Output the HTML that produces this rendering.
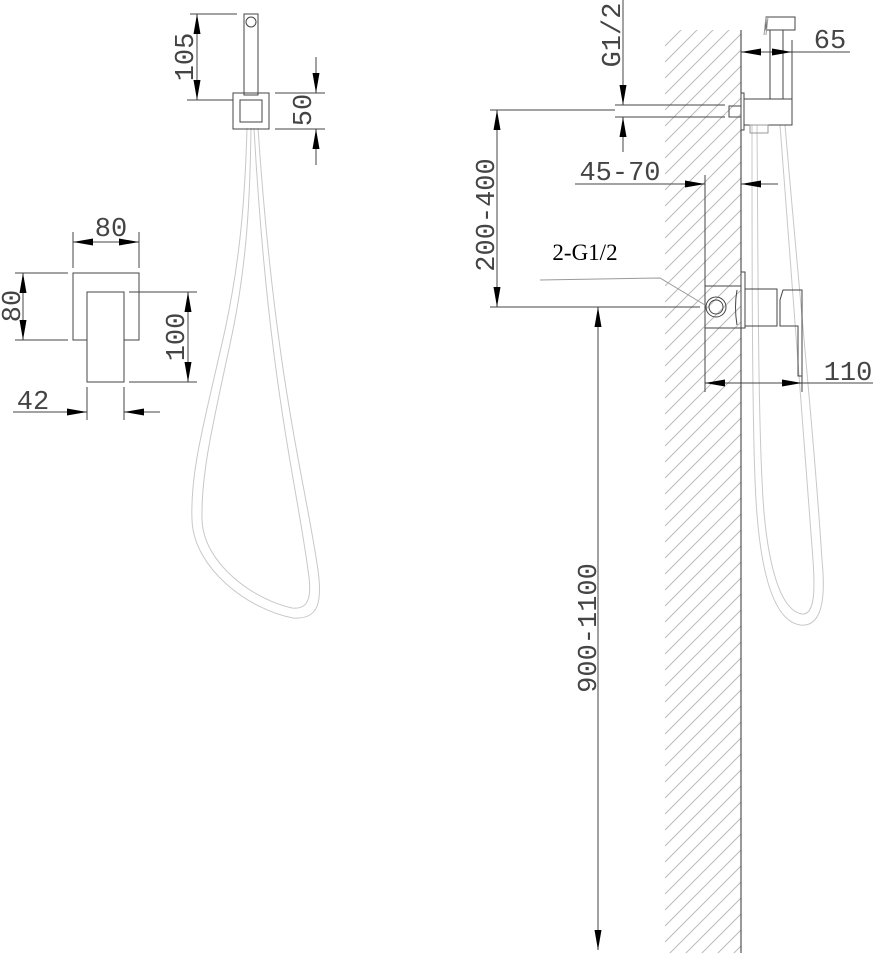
<!DOCTYPE html>
<html><head><meta charset="utf-8"><style>
html,body{margin:0;padding:0;background:#fff;overflow:hidden;width:873px;height:953px;}
svg{display:block;}
text{font-family:"Liberation Mono","DejaVu Sans Mono",monospace;fill:#444;}
</style></head><body>
<svg width="873" height="953" viewBox="0 0 873 953" xmlns="http://www.w3.org/2000/svg">
<defs>
<marker id="a" viewBox="0 0 20 7" refX="20" refY="3.5" markerWidth="20" markerHeight="7" markerUnits="userSpaceOnUse" orient="auto" preserveAspectRatio="none"><path d="M0,0L20,3.5L0,7z" fill="#000"/></marker>
<clipPath id="wall"><rect x="665" y="30" width="76" height="923"/></clipPath>
</defs>

<g clip-path="url(#wall)" stroke="#bbb" stroke-width="1">
<path d="M665,46l80,-80M665,62l80,-80M665,78l80,-80M665,94l80,-80M665,110l80,-80M665,126l80,-80M665,142l80,-80M665,158l80,-80M665,174l80,-80M665,190l80,-80M665,206l80,-80M665,222l80,-80M665,238l80,-80M665,254l80,-80M665,270l80,-80M665,286l80,-80M665,302l80,-80M665,318l80,-80M665,334l80,-80M665,350l80,-80M665,366l80,-80M665,382l80,-80M665,398l80,-80M665,414l80,-80M665,430l80,-80M665,446l80,-80M665,462l80,-80M665,478l80,-80M665,494l80,-80M665,510l80,-80M665,526l80,-80M665,542l80,-80M665,558l80,-80M665,574l80,-80M665,590l80,-80M665,606l80,-80M665,622l80,-80M665,638l80,-80M665,654l80,-80M665,670l80,-80M665,686l80,-80M665,702l80,-80M665,718l80,-80M665,734l80,-80M665,750l80,-80M665,766l80,-80M665,782l80,-80M665,798l80,-80M665,814l80,-80M665,830l80,-80M665,846l80,-80M665,862l80,-80M665,878l80,-80M665,894l80,-80M665,910l80,-80M665,926l80,-80M665,942l80,-80M665,958l80,-80M665,974l80,-80M665,990l80,-80M665,1006l80,-80M665,1022l80,-80M665,1038l80,-80"/>
</g>

<g fill="none" stroke="#c8c8c8" stroke-width="1">
<path d="M247,128 C245,200 240,260 225,330 C205,420 190,470 192,520 C194,570 250,610 293,618 C320,620 322,600 318,570 C305,480 275,380 258,128"/>
<path d="M251,128 C250,200 247,260 233,330 C214,420 201,470 202,520 C204,565 255,600 292,608 C310,610 312,595 308,570 C296,480 268,380 254,128"/>
<path d="M752,125 C752,250 752,400 755,480 C758,560 770,620 800,625 C825,628 825,590 822,560 C815,450 800,300 785,125"/>
<path d="M757,125 C758,250 758,400 762,480 C765,555 778,610 802,614 C815,615 815,590 813,560 C805,450 792,300 780,125"/>
</g>

<g fill="none" stroke="#444" stroke-width="1">
<rect x="244" y="14" width="14" height="81"/>
<circle cx="251" cy="22" r="5"/>
<rect x="233" y="93" width="36" height="36"/>
<rect x="240" y="100" width="22" height="22"/>
<line x1="244" y1="95" x2="258" y2="95"/>
<rect x="73" y="273" width="66" height="67"/>
<rect x="87" y="292" width="37" height="90" fill="#fff"/>

<line x1="741" y1="30" x2="741" y2="953" stroke="#333"/>
<line x1="615" y1="105" x2="725" y2="105"/>
<line x1="615" y1="117" x2="725" y2="117"/>
<rect x="729" y="106" width="12" height="11"/>
<rect x="741" y="93" width="3" height="37"/>
<rect x="744" y="99" width="48" height="26"/>
<line x1="770" y1="30" x2="770" y2="99"/>
<line x1="783" y1="30" x2="783" y2="99"/>
<path d="M766,17 H795 V30 H766 Z"/>
<path d="M766,17 L764,35 M768,17 L766,35" stroke="#999"/>
<rect x="750" y="125" width="18" height="8" stroke="#999"/>
<rect x="705" y="286" width="36" height="42"/>
<circle cx="716" cy="307" r="10"/>
<circle cx="716" cy="307" r="7"/>
<path d="M737,290 q-3,17 0,35"/>
<rect x="741" y="272" width="4" height="56"/>
<rect x="745" y="289" width="32" height="37"/>
<path d="M783,290 H802 V376 H798 V326 H780 V300 Z"/>

<line x1="190" y1="14" x2="237" y2="14"/>
<line x1="187" y1="100" x2="233" y2="100"/>
<line x1="275" y1="93" x2="325" y2="93"/>
<line x1="275" y1="129" x2="325" y2="129"/>
<line x1="316" y1="57" x2="316" y2="93" marker-end="url(#a)"/>
<line x1="316" y1="165" x2="316" y2="129" marker-end="url(#a)"/>
<line x1="73" y1="232" x2="73" y2="268"/>
<line x1="139" y1="232" x2="139" y2="268"/>
<line x1="15" y1="273" x2="68" y2="273"/>
<line x1="15" y1="340" x2="68" y2="340"/>
<line x1="129" y1="292" x2="197" y2="292"/>
<line x1="129" y1="382" x2="197" y2="382"/>
<line x1="87" y1="387" x2="87" y2="420"/>
<line x1="124" y1="387" x2="124" y2="420"/>
<line x1="13" y1="412" x2="87" y2="412" marker-end="url(#a)"/>
<line x1="160" y1="412" x2="124" y2="412" marker-end="url(#a)"/>

<line x1="623" y1="0" x2="623" y2="105" marker-end="url(#a)"/>
<line x1="623" y1="152" x2="623" y2="117" marker-end="url(#a)"/>
<line x1="792" y1="40" x2="792" y2="100"/>
<line x1="766" y1="52" x2="741" y2="52" marker-end="url(#a)"/>
<line x1="766" y1="52" x2="792" y2="52" marker-end="url(#a)"/>
<line x1="792" y1="52" x2="850" y2="52"/>
<line x1="575" y1="184" x2="705" y2="184" marker-end="url(#a)"/>
<line x1="778" y1="184" x2="741" y2="184" marker-end="url(#a)"/>
<line x1="705" y1="175" x2="705" y2="392"/>
<line x1="490" y1="110" x2="615" y2="110"/>
<line x1="490" y1="307" x2="700" y2="307"/>
<line x1="802" y1="376" x2="802" y2="392"/>
<line x1="750" y1="383" x2="705" y2="383" marker-end="url(#a)"/>
<line x1="750" y1="383" x2="802" y2="383" marker-end="url(#a)"/>
<line x1="802" y1="383" x2="873" y2="383"/>
<path d="M540,280 L660,278 L705,305" stroke="#999"/>

<line x1="197" y1="57" x2="197" y2="14" marker-end="url(#a)"/>
<line x1="197" y1="57" x2="197" y2="100" marker-end="url(#a)"/>
<line x1="106" y1="242" x2="73" y2="242" marker-end="url(#a)"/>
<line x1="106" y1="242" x2="139" y2="242" marker-end="url(#a)"/>
<line x1="23" y1="306" x2="23" y2="273" marker-end="url(#a)"/>
<line x1="23" y1="306" x2="23" y2="340" marker-end="url(#a)"/>
<line x1="188" y1="337" x2="188" y2="292" marker-end="url(#a)"/>
<line x1="188" y1="337" x2="188" y2="382" marker-end="url(#a)"/>
<line x1="497" y1="208" x2="497" y2="110" marker-end="url(#a)"/>
<line x1="497" y1="208" x2="497" y2="307" marker-end="url(#a)"/>
<line x1="598" y1="600" x2="598" y2="307" marker-end="url(#a)"/>
<line x1="598" y1="600" x2="598" y2="950" marker-end="url(#a)"/>
</g>

<g font-size="27">
<text transform="translate(193,57) rotate(-90)" text-anchor="middle">105</text>
<text transform="translate(311,110) rotate(-90)" text-anchor="middle">50</text>
<text x="111" y="236" text-anchor="middle">80</text>
<text transform="translate(20,306) rotate(-90)" text-anchor="middle">80</text>
<text transform="translate(184,337) rotate(-90)" text-anchor="middle">100</text>
<text x="33" y="409" text-anchor="middle">42</text>
<text transform="translate(620,35) rotate(-90)" text-anchor="middle">G1/2</text>
<text x="830" y="48" text-anchor="middle">65</text>
<text x="620" y="180" text-anchor="middle">45-70</text>
<text transform="translate(494,215) rotate(-90)" text-anchor="middle">200-400</text>
<text transform="translate(596,628) rotate(-90)" text-anchor="middle">900-1100</text>
<text x="848" y="380" text-anchor="middle">110</text>
<text x="585" y="260" text-anchor="middle" font-size="23" style="font-family:'Liberation Serif',serif;fill:#000">2-G1/2</text>
</g>
</svg>
</body></html>
